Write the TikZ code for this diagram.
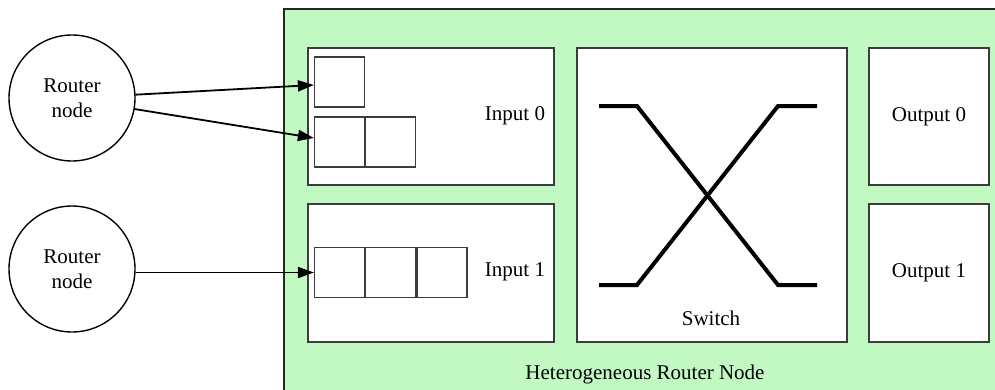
\documentclass[tikz,border=0pt]{standalone}
\usepackage{fontspec}
\setmainfont{Liberation Serif}
\usetikzlibrary{arrows.meta,calc}
\definecolor{bggreen}{HTML}{C2F9C2}
\definecolor{boxline}{HTML}{3C3C3C}
\begin{document}
\begin{tikzpicture}[x=1pt,y=-1pt,
  lbl/.style={font=\fontsize{21}{25}\selectfont},
  router/.style={circle,draw=black,line width=1.4pt,fill=white,minimum size=126pt,inner sep=0pt,align=center,lbl},
  panel/.style={draw=boxline,line width=1.3pt,fill=white,rectangle,inner sep=0pt,lbl},
  qbox/.style={draw=boxline,line width=1.2pt,fill=white,rectangle,minimum width=50pt,minimum height=50pt,inner sep=0pt},
  link/.style={line width=1.8pt,-{Triangle[length=16pt,width=11pt]}},
  xline/.style={line width=4pt,line join=miter}
]
\clip (0,0) rectangle (995,389);
\fill[white] (0,0) rectangle (995,389);
% outer green router node
\draw[fill=bggreen,draw=black!85,line width=2pt] (284,9) rectangle (1010,400);
% panels
\node[panel,minimum width=246pt,minimum height=137pt] (in0) at (431,116.5) {};
\node[panel,minimum width=246pt,minimum height=138pt] (in1) at (431,273) {};
\node[panel,minimum width=270pt,minimum height=294pt] (sw) at (712,195) {};
\node[panel,minimum width=120pt,minimum height=137pt] (out0) at (929,116.5) {Output 0};
\node[panel,minimum width=120pt,minimum height=138pt] (out1) at (929,273) {Output 1};
% labels
\node[lbl] (lin0) at (515,116) {Input 0};
\node[lbl] (lin1) at (515,272) {Input 1};
\node[lbl] (lsw) at (711,318) {Switch};
\node[lbl] (lhet) at (645,374) {Heterogeneous Router Node};
% queue buffers
\node[qbox] (q0a) at (339.5,82) {};
\node[qbox] (q0b) at (339.5,142) {};
\node[qbox,anchor=west] (q0c) at (q0b.east) {};
\node[qbox] (q1a) at (339.5,272.5) {};
\node[qbox,anchor=west] (q1b) at (q1a.east) {};
\node[qbox,anchor=west] (q1c) at (q1b.east) {};
% crossbar
\draw[xline] (599,106) -- (637,106) -- (778,285) -- (817,285);
\draw[xline] (599,285) -- (637,285) -- (778,106) -- (817,106);
% router nodes
\node[router] (r0) at (72,98) {Router\\node};
\node[router] (r1) at (72,269) {Router\\node};
% links
\draw[link] (r0.3) -- ($(q0a.west)+(0,3)$);
\draw[link] (r0.-10) -- ($(q0b.west)+(0,-4)$);
\draw[link] (r1.east |- q1a.west) -- (q1a.west);
\end{tikzpicture}
\end{document}
